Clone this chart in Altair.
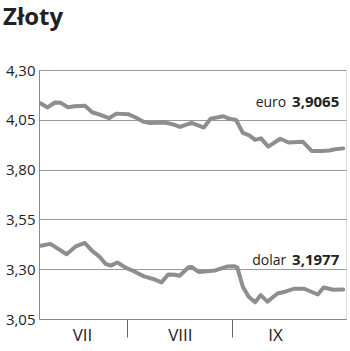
import altair as alt
import pandas as pd

# euro series (t: position in period 0-100, value PLN)
euro_t = [0.6, 2.8, 5.2, 7.1, 9.4, 11.6, 15.0, 17.3, 19.8, 22.8, 25.2, 29.0, 31.2, 33.9,
          36.2, 40.4, 42.6, 44.3, 45.9, 49.7, 53.7, 55.9, 60.1, 62.0, 64.2, 66.4, 68.5,
          70.4, 72.3, 74.7, 78.6, 81.3, 85.9, 88.9, 92.1, 94.6, 96.4, 99.1]
euro_v = [4.132, 4.112, 4.137, 4.135, 4.113, 4.118, 4.120, 4.088, 4.076, 4.058, 4.081,
          4.078, 4.064, 4.041, 4.034, 4.036, 4.031, 4.024, 4.014, 4.035, 4.011, 4.056,
          4.068, 4.055, 4.049, 3.984, 3.972, 3.949, 3.957, 3.915, 3.955, 3.936, 3.940,
          3.893, 3.893, 3.896, 3.902, 3.9065]

dolar_t = [0.6, 3.7, 9.0, 12.0, 14.9, 17.4, 19.5, 21.7, 23.4, 25.5, 28.5, 30.9, 34.2,
           37.2, 39.9, 42.1, 44.2, 45.8, 48.7, 49.7, 52.0, 57.4, 61.2, 63.7, 64.6, 66.4,
           68.3, 70.4, 72.2, 74.4, 77.7, 80.2, 83.2, 86.4, 90.8, 92.7, 95.9, 99.1]
dolar_v = [3.418, 3.427, 3.375, 3.415, 3.432, 3.391, 3.366, 3.327, 3.318, 3.334, 3.305,
           3.290, 3.264, 3.251, 3.234, 3.274, 3.272, 3.267, 3.310, 3.311, 3.286, 3.294,
           3.313, 3.315, 3.308, 3.212, 3.162, 3.134, 3.170, 3.137, 3.178, 3.187, 3.202,
           3.202, 3.173, 3.208, 3.197, 3.1977]

series_names = ["euro", "dolar"]
last_labels = ["3,9065", "3,1977"]

month_names = ["VII", "VIII", "IX"]
month_centers = [14.0, 45.9, 76.9]
month_bounds = [28.7, 62.9]
y_ticks = [3.05, 3.30, 3.55, 3.80, 4.05, 4.30]

FONT = "Open Sans"
LINE = "#8e8e8e"
GRID = "#9a9a9a"
TXT = "#222222"

df = pd.concat([
    pd.DataFrame({"t": euro_t, "v": euro_v, "s": "euro"}),
    pd.DataFrame({"t": dolar_t, "v": dolar_v, "s": "dolar"}),
])

lab = pd.DataFrame({
    "s": series_names,
    "t": [euro_t[-1], dolar_t[-1]],
    "v": [euro_v[-1], dolar_v[-1]],
    "val": last_labels,
})

tick_test = " || ".join(f"datum.value == {b}" for b in month_bounds)
label_expr = " : ".join(f"datum.value == {c} ? '{n}'" for c, n in zip(month_centers, month_names)) + " : ''"

x = alt.X("t:Q", scale=alt.Scale(domain=[0, 100], nice=False, zero=False),
          axis=alt.Axis(values=month_bounds + month_centers, title=None, grid=False,
                        tickSize=18, tickColor="#666666", domainColor="#888888",
                        tickOpacity={"condition": {"test": tick_test, "value": 1}, "value": 0},
                        labelExpr=label_expr, labelPadding=-10, labelFont=FONT,
                        labelFontSize=17, labelColor=TXT))
y = alt.Y("v:Q", scale=alt.Scale(domain=[3.05, 4.30], nice=False, zero=False),
          axis=alt.Axis(values=y_ticks, title=None, ticks=False, grid=True,
                        gridColor=GRID, gridWidth=1, domainColor="#888888",
                        labelExpr="replace(format(datum.value, '.2f'), '.', ',')",
                        labelPadding=4, labelFont=FONT, labelFontSize=15, labelColor=TXT))

lines = alt.Chart(df).mark_line(color=LINE, strokeWidth=4, strokeJoin="round",
                                strokeCap="round").encode(x=x, y=y, detail="s:N")

lab_e = lab[lab.s == "euro"]
lab_d = lab[lab.s == "dolar"]

def texts(d, dy):
    name = alt.Chart(d).mark_text(align="right", baseline="alphabetic", dx=-57, dy=dy,
                                  font=FONT, fontSize=14, color=TXT).encode(
        x="t:Q", y="v:Q", text="s:N")
    val = alt.Chart(d).mark_text(align="right", baseline="alphabetic", dx=-4, dy=dy,
                                 font=FONT, fontSize=15, fontWeight="bold", color=TXT).encode(
        x="t:Q", y="v:Q", text="val:N")
    return name + val

chart = alt.layer(lines, texts(lab_e, -41), texts(lab_d, -25)).properties(
    width=307, height=249,
    autosize=alt.AutoSizeParams(type="none"),
    padding={"left": 39, "top": 70, "right": 4, "bottom": 32},
    title=alt.TitleParams("Złoty", anchor="start", frame="group", dx=-36, offset=33,
                          font=FONT, fontSize=24, fontWeight="bold", color=TXT),
).configure_view(stroke="#888888", strokeWidth=1).configure(background="white")

chart.save("out.html", embed_options={"renderer": "svg", "actions": False})
